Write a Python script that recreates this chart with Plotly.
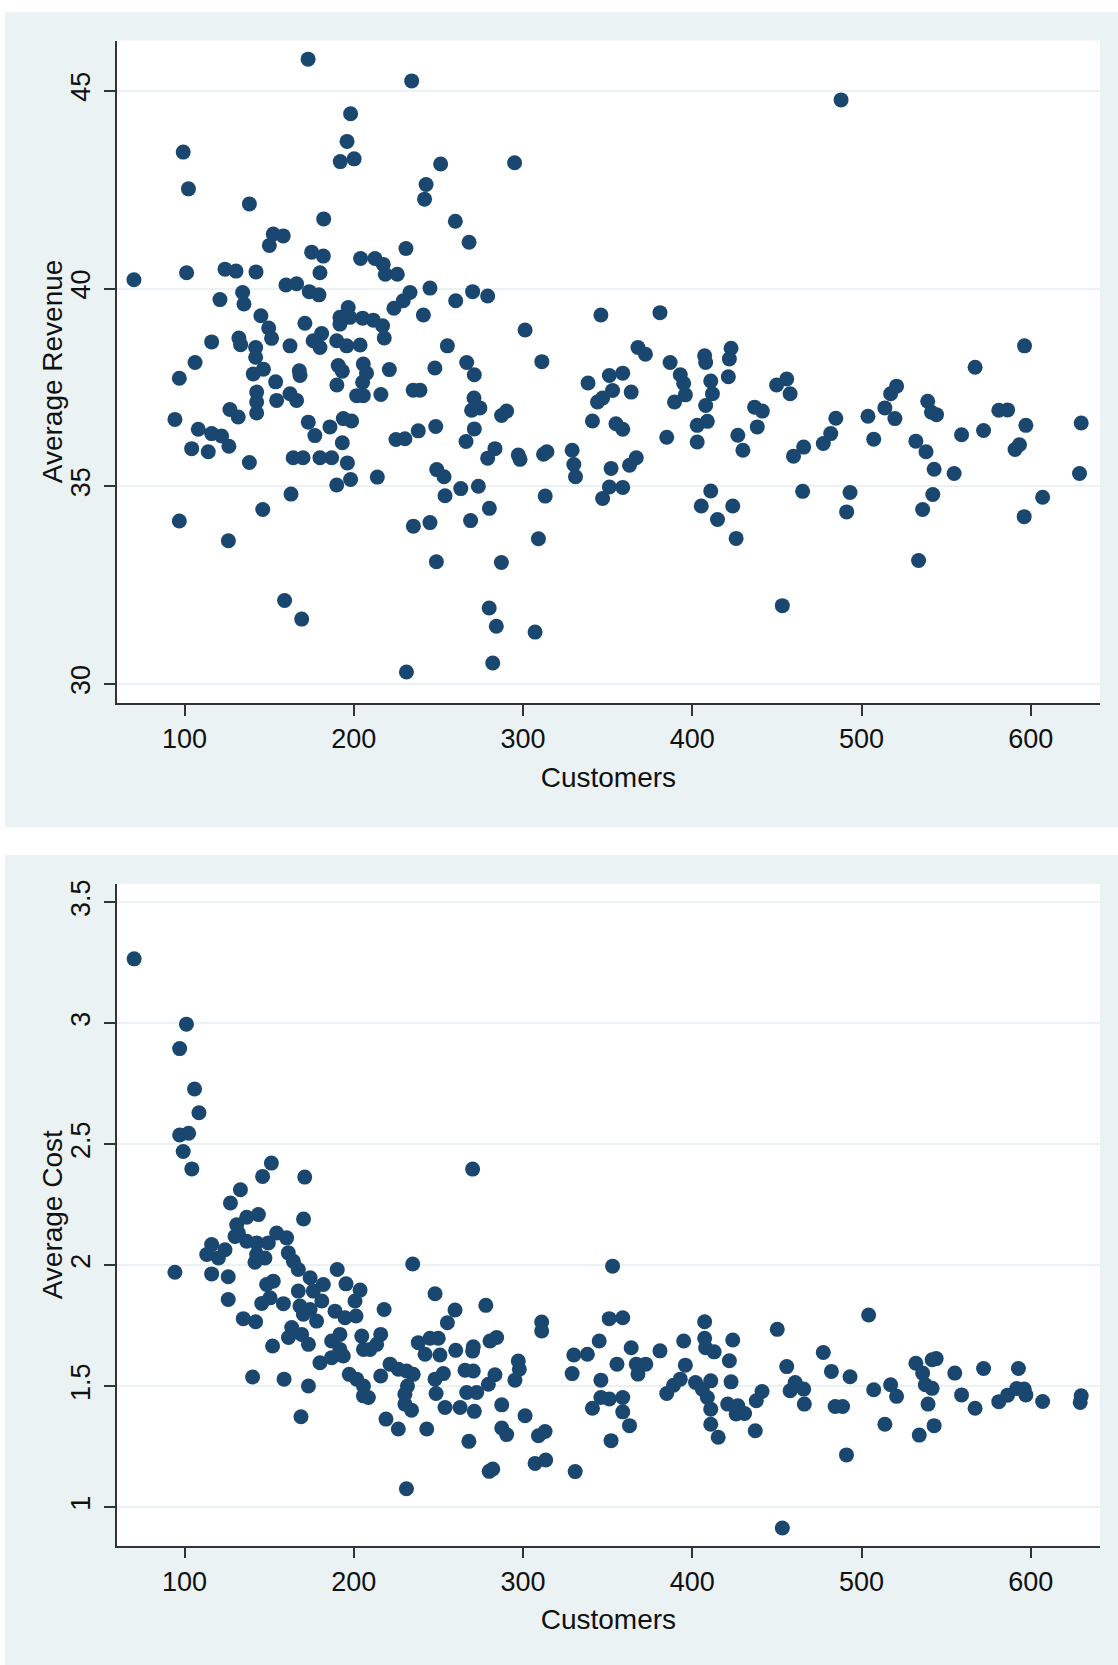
import plotly.graph_objects as go

# ---------------- data ----------------
customers_rev = [
    173.0, 234.2, 198.1, 196.0, 192.0, 200.2, 99.2, 102.3, 251.3, 295.0, 242.7, 241.8, 487.9,
    138.3, 182.2, 260.0, 268.1, 152.4, 158.3, 150.1, 175.1, 182.0, 180.0, 204.0, 212.5, 217.4,
    218.6, 225.7, 230.8, 245.0, 270.2, 279.1, 260.2, 233.2, 229.2, 223.7, 241.1, 70.1, 101.2,
    123.9, 130.4, 142.2, 159.9, 166.2, 173.7, 179.4, 134.3, 135.1, 120.9, 145.1, 149.7, 151.4,
    171.1, 196.7, 191.8, 191.8, 197.7, 205.2, 211.5, 217.0, 218.0, 181.0, 176.0, 180.0, 189.9,
    195.8, 203.7, 162.3, 132.1, 133.1, 116.0, 142.0, 142.0, 255.3, 301.2, 311.1, 266.7, 271.2,
    247.9, 221.0, 190.8, 193.2, 205.6, 207.5, 205.2, 167.8, 168.2, 146.6, 140.6, 106.2, 96.9,
    153.8, 190.0, 142.6, 142.6, 142.6, 154.4, 162.3, 166.2, 201.7, 205.6, 216.0, 235.1, 239.1,
    271.0, 269.6, 274.5, 271.2, 266.3, 287.3, 290.3, 94.3, 108.1, 116.0, 121.9, 126.2, 126.8,
    131.7, 104.2, 114.0, 138.3, 173.1, 177.0, 185.9, 193.8, 198.7, 193.2, 164.2, 170.0, 180.0,
    186.9, 196.2, 198.1, 189.9, 162.9, 146.2, 96.9, 125.9, 213.9, 224.9, 230.2, 238.1, 248.4,
    279.1, 283.4, 249.0, 253.3, 263.2, 273.6, 253.9, 280.1, 297.2, 298.2, 312.1, 314.1, 313.1,
    269.0, 235.2, 245.0, 309.1,
    248.8, 287.2, 159.1, 169.2, 280.0, 284.2, 307.1, 282.1, 231.1,
    346.0, 380.9, 367.9, 372.3, 386.9, 338.4, 351.0, 358.9, 352.9, 344.0, 347.0, 363.9, 341.0,
    354.9, 358.9, 384.9, 329.0, 330.0, 331.0, 352.0, 362.9, 366.9, 351.0, 358.9, 347.0, 392.9,
    394.9, 395.9, 389.5, 407.3, 407.9, 422.9, 421.9, 421.3, 410.9, 411.9, 407.9, 402.9, 408.9,
    402.9, 410.9, 405.3, 414.9, 423.9, 425.9, 426.9, 429.9, 436.8, 441.4, 438.4, 449.8, 455.8,
    457.8, 459.8, 465.8, 465.2, 477.4, 481.8, 484.8, 493.2, 491.2, 503.8, 507.2, 513.8, 517.2,
    520.7, 519.7, 532.1, 538.1, 542.9, 554.7, 539.1, 541.3, 544.3, 542.1, 536.1, 559.1, 572.1,
    581.1, 586.3, 567.1, 596.3, 597.1, 590.7, 593.3, 607.0, 596.1,
    629.8, 628.8, 533.7, 453.2,
]
avg_revenue = [
    45.80, 45.25, 44.42, 43.72, 43.21, 43.28, 43.45, 42.52, 43.15, 43.18, 42.63, 42.26, 44.77,
    42.14, 41.76, 41.70, 41.17, 41.38, 41.33, 41.09, 40.92, 40.82, 40.40, 40.76, 40.76, 40.61,
    40.36, 40.36, 41.01, 40.01, 39.92, 39.81, 39.69, 39.90, 39.69, 39.50, 39.33, 40.22, 40.40,
    40.49, 40.44, 40.42, 40.09, 40.12, 39.92, 39.84, 39.90, 39.61, 39.72, 39.31, 39.00, 38.74,
    39.12, 39.52, 39.27, 39.10, 39.27, 39.25, 39.20, 39.06, 38.75, 38.86, 38.68, 38.51, 38.68,
    38.55, 38.57, 38.55, 38.75, 38.58, 38.65, 38.51, 38.26, 38.55, 38.95, 38.15, 38.13, 37.82,
    37.99, 37.95, 38.05, 37.91, 38.09, 37.86, 37.63, 37.92, 37.80, 37.96, 37.84, 38.13, 37.73,
    37.64, 37.56, 37.38, 37.13, 36.85, 37.17, 37.34, 37.17, 37.29, 37.29, 37.32, 37.43, 37.43,
    37.23, 36.92, 36.98, 36.45, 36.13, 36.79, 36.90, 36.69, 36.44, 36.33, 36.27, 36.01, 36.94,
    36.75, 35.95, 35.87, 35.60, 36.62, 36.28, 36.50, 36.71, 36.65, 36.10, 35.72, 35.72, 35.72,
    35.72, 35.59, 35.17, 35.03, 34.80, 34.41, 34.12, 33.62, 35.23, 36.18, 36.20, 36.40, 36.51,
    35.71, 35.95, 35.42, 35.24, 34.94, 35.00, 34.76, 34.44, 35.79, 35.68, 35.81, 35.87, 34.75,
    34.13, 33.99, 34.08, 33.67,
    33.09, 33.07, 32.11, 31.64, 31.92, 31.46, 31.31, 30.53, 30.30,
    39.33, 39.39, 38.51, 38.34, 38.13, 37.61, 37.80, 37.86, 37.42, 37.13, 37.23, 37.38, 36.65,
    36.58, 36.44, 36.24, 35.91, 35.55, 35.24, 35.45, 35.53, 35.72, 34.98, 34.97, 34.69, 37.82,
    37.60, 37.31, 37.13, 38.30, 38.13, 38.49, 38.22, 37.77, 37.66, 37.34, 37.04, 36.54, 36.64,
    36.12, 34.88, 34.50, 34.16, 34.50, 33.68, 36.29, 35.91, 37.00, 36.90, 36.50, 37.56, 37.71,
    37.34, 35.76, 35.99, 34.87, 36.08, 36.33, 36.72, 34.84, 34.35, 36.77, 36.19, 36.98, 37.34,
    37.53, 36.71, 36.14, 35.87, 35.43, 35.32, 37.15, 36.87, 36.81, 34.79, 34.41, 36.30, 36.41,
    36.92, 36.93, 38.01, 38.55, 36.54, 35.93, 36.05, 34.72, 34.23,
    36.60, 35.32, 33.12, 31.98,
]

customers_cost = [
    70.2, 101.1, 97.1, 105.9, 108.5, 97.1, 102.4, 99.2, 104.3, 151.3, 146.1, 171.0, 270.2, 133.0,
    127.1, 170.3,
    143.6, 136.7, 130.8, 131.8, 129.8, 136.7, 142.6, 149.5, 154.4, 160.3, 116.0, 123.9, 113.1,
    120.0, 142.6, 147.5, 141.6, 161.3, 164.3, 167.2, 94.3, 116.0, 125.8, 125.8, 152.4, 148.5,
    174.2, 182.0, 190.2, 195.4, 203.7, 200.7, 167.2, 176.1, 145.6, 150.5, 158.4, 168.2, 174.2,
    181.1, 170.2, 178.0, 134.7, 142.0, 188.9, 194.8, 201.3, 163.3, 161.4, 169.2, 173.2, 152.0,
    186.9, 191.8, 191.8, 180.0, 186.9, 193.8, 204.7, 205.7, 209.6, 213.5, 215.9, 217.9, 234.8,
    248.0, 259.8, 255.3, 278.0, 311.0, 311.0, 238.1, 245.0, 249.9, 242.1, 250.9, 260.2, 270.6,
    270.2, 280.5, 284.4, 297.2, 297.8, 295.2, 197.3, 201.7, 205.7, 205.7, 208.6, 215.9, 221.4,
    226.3, 231.2, 235.1, 231.7, 230.2, 230.2, 234.1, 248.0, 252.9, 248.6, 265.7, 270.6, 266.7,
    272.6, 279.5, 283.4, 253.9, 262.8, 271.2, 287.4, 301.2, 287.4, 290.3, 309.1, 313.0, 219.0,
    226.3, 243.1, 268.0, 140.2, 158.8, 173.2, 168.8,
    280.0, 282.1, 307.1, 313.4, 231.1,
    352.9, 350.9, 358.9, 345.0, 330.0, 338.0, 329.0, 346.0, 355.5, 363.9, 366.9, 372.5, 367.9,
    380.9, 394.9, 395.9, 407.3, 407.3, 407.9, 412.9, 423.9, 421.9, 422.9, 384.9, 388.9, 392.9,
    401.9, 405.9, 410.9, 408.9, 410.9, 410.9, 415.3, 420.9, 426.9, 430.9, 425.9, 437.2, 437.8,
    441.2, 450.2, 455.8, 457.8, 460.8, 465.8, 466.2, 477.4, 482.2, 493.2, 484.4, 488.8, 504.2,
    507.2, 517.2, 520.7, 513.8, 532.1, 536.1, 537.7, 541.7, 541.7, 544.1, 539.3, 542.9, 534.1,
    555.1, 559.1, 567.1, 572.1, 581.1, 586.3, 591.7, 596.1, 597.1, 592.7, 607.0, 352.0, 346.0,
    351.0, 358.9, 341.0, 358.9, 362.9,
    629.8, 629.2, 453.2, 491.1, 330.8,
]
avg_cost = [
    3.266, 2.996, 2.895, 2.728, 2.630, 2.538, 2.545, 2.470, 2.398, 2.422, 2.367, 2.364, 2.397,
    2.312, 2.257, 2.191,
    2.209, 2.198, 2.167, 2.133, 2.119, 2.099, 2.092, 2.092, 2.133, 2.113, 2.085, 2.064, 2.044,
    2.030, 2.044, 2.030, 2.012, 2.051, 2.016, 1.982, 1.971, 1.964, 1.952, 1.858, 1.934, 1.920,
    1.948, 1.920, 1.982, 1.923, 1.897, 1.852, 1.893, 1.893, 1.842, 1.865, 1.841, 1.831, 1.817,
    1.852, 1.797, 1.769, 1.779, 1.766, 1.810, 1.783, 1.790, 1.742, 1.701, 1.714, 1.673, 1.666,
    1.687, 1.714, 1.652, 1.597, 1.618, 1.625, 1.707, 1.652, 1.652, 1.673, 1.714, 1.817, 2.005,
    1.882, 1.815, 1.762, 1.834, 1.765, 1.728, 1.680, 1.698, 1.698, 1.632, 1.629, 1.648, 1.663,
    1.645, 1.687, 1.701, 1.604, 1.570, 1.525, 1.549, 1.529, 1.501, 1.460, 1.453, 1.542, 1.591,
    1.570, 1.563, 1.549, 1.501, 1.467, 1.426, 1.401, 1.529, 1.552, 1.470, 1.566, 1.563, 1.474,
    1.474, 1.508, 1.547, 1.412, 1.412, 1.396, 1.423, 1.378, 1.327, 1.300, 1.295, 1.313, 1.364,
    1.323, 1.323, 1.272, 1.538, 1.529, 1.501, 1.374,
    1.148, 1.158, 1.181, 1.195, 1.076,
    1.996, 1.779, 1.783, 1.687, 1.629, 1.632, 1.552, 1.525, 1.591, 1.659, 1.591, 1.591, 1.550,
    1.646, 1.687, 1.587, 1.766, 1.698, 1.659, 1.642, 1.691, 1.605, 1.518, 1.470, 1.504, 1.529,
    1.515, 1.488, 1.522, 1.453, 1.405, 1.343, 1.289, 1.426, 1.419, 1.387, 1.385, 1.316, 1.440,
    1.478, 1.735, 1.581, 1.481, 1.515, 1.488, 1.426, 1.639, 1.561, 1.539, 1.416, 1.416, 1.794,
    1.485, 1.506, 1.458, 1.343, 1.595, 1.554, 1.506, 1.491, 1.609, 1.614, 1.426, 1.337, 1.298,
    1.554, 1.464, 1.409, 1.573, 1.436, 1.463, 1.490, 1.488, 1.464, 1.573, 1.437, 1.275, 1.453,
    1.447, 1.453, 1.409, 1.394, 1.337,
    1.460, 1.433, 0.914, 1.216, 1.147,
]

x_ticks = [100, 200, 300, 400, 500, 600]
rev_ticks = [30, 35, 40, 45]
cost_ticks = [1, 1.5, 2, 2.5, 3, 3.5]
cost_tick_text = ["1", "1.5", "2", "2.5", "3", "3.5"]

# ---------------- styling ----------------
W, H = 1118, 1665
BG = "#EAF2F3"
NAVY = "#1A476F"
AXC = "#333333"
FONT = "Liberation Sans"

TOP_PLOT = (35.7, 700.0)      # pixel rows of the top plot area
BOT_PLOT = (881.7, 1545.3)    # pixel rows of the bottom plot area
PLOT_X = (116.7, 1100.0)


def fx(p):
    return p / W


def fy(p):
    return 1 - p / H


fig = go.Figure()
marker = dict(size=15, color=NAVY, line=dict(width=0))
fig.add_trace(go.Scatter(x=customers_rev, y=avg_revenue, mode="markers",
                         marker=marker, xaxis="x", yaxis="y", showlegend=False))
fig.add_trace(go.Scatter(x=customers_cost, y=avg_cost, mode="markers",
                         marker=marker, xaxis="x2", yaxis="y2", showlegend=False))

tickfont = dict(family=FONT, size=27, color="#111111")
titlefont = dict(family=FONT, size=28, color="#111111")

xcommon = dict(range=[59.9, 640.9], tickvals=x_ticks, showgrid=False, zeroline=False,
               showline=True, linecolor=AXC, linewidth=1.5, ticks="outside",
               ticklen=11, tickwidth=1.5, tickcolor=AXC, tickfont=tickfont,
               ticklabelstandoff=0, domain=[fx(PLOT_X[0]), fx(PLOT_X[1])])
ycommon = dict(showgrid=True, gridcolor=BG, gridwidth=2, zeroline=False,
               showline=True, linecolor=AXC, linewidth=1.5, ticks="outside",
               ticklen=11, tickwidth=1.5, tickcolor=AXC, tickfont=tickfont,
               tickangle=-90, ticklabelstandoff=3)

fig.update_layout(
    width=W, height=H,
    margin=dict(l=0, r=0, t=0, b=0),
    paper_bgcolor="white", plot_bgcolor="white",
    font=dict(family=FONT),
    xaxis=dict(**xcommon, anchor="y",
               title=dict(text="Customers", font=titlefont, standoff=14)),
    yaxis=dict(**ycommon, anchor="x", range=[29.52, 46.27], tickvals=rev_ticks,
               domain=[fy(TOP_PLOT[1]), fy(TOP_PLOT[0])]),
    xaxis2=dict(**xcommon, anchor="y2",
                title=dict(text="Customers", font=titlefont, standoff=14)),
    yaxis2=dict(**ycommon, anchor="x2", range=[0.841, 3.575], tickvals=cost_ticks,
                ticktext=cost_tick_text, domain=[fy(BOT_PLOT[1]), fy(BOT_PLOT[0])]),
    annotations=[
        dict(text="Average Revenue", textangle=-90, font=titlefont, showarrow=False,
             xref="paper", yref="paper", x=fx(52.5), xanchor="center",
             y=fy(sum(TOP_PLOT) / 2), yanchor="middle"),
        dict(text="Average Cost", textangle=-90, font=titlefont, showarrow=False,
             xref="paper", yref="paper", x=fx(52.5), xanchor="center",
             y=fy(sum(BOT_PLOT) / 2), yanchor="middle"),
    ],
    shapes=[
        dict(type="rect", xref="paper", yref="paper", x0=fx(5), x1=1, y0=fy(825), y1=fy(7),
             fillcolor=BG, line=dict(width=0), layer="below"),
        dict(type="rect", xref="paper", yref="paper", x0=fx(5), x1=1, y0=0, y1=fy(852.7),
             fillcolor=BG, line=dict(width=0), layer="below"),
        dict(type="rect", xref="paper", yref="paper", x0=fx(PLOT_X[0]), x1=fx(PLOT_X[1]),
             y0=fy(TOP_PLOT[1]), y1=fy(TOP_PLOT[0]), fillcolor="white",
             line=dict(width=0), layer="below"),
        dict(type="rect", xref="paper", yref="paper", x0=fx(PLOT_X[0]), x1=fx(PLOT_X[1]),
             y0=fy(BOT_PLOT[1]), y1=fy(BOT_PLOT[0]), fillcolor="white",
             line=dict(width=0), layer="below"),
    ],
)

fig.write_html(
    "out.html",
    config={"displayModeBar": False},
    post_script="document.body.style.margin='0';document.body.style.padding='0';"
                "document.documentElement.style.overflow='hidden';"
                "document.body.style.overflow='hidden';",
)
